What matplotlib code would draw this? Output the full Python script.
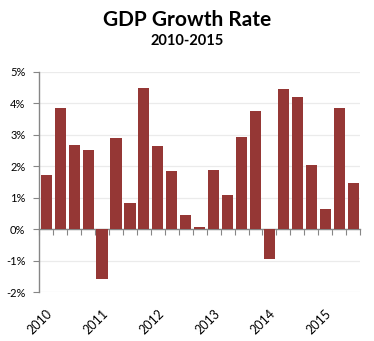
import matplotlib
matplotlib.use("Agg")
import matplotlib.pyplot as plt
import matplotlib.transforms as mtransforms
import numpy as np

# quarterly GDP growth, Q1 2010 .. Q3 2015 (percent)
growth = [1.72, 3.85, 2.67, 2.52,
          -1.57, 2.90, 0.84, 4.48,
          2.64, 1.85, 0.45, 0.07,
          1.88, 1.09, 2.93, 3.75,
          -0.94, 4.45, 4.20, 2.04,
          0.65, 3.85, 1.47]
years = ["2010", "2011", "2012", "2013", "2014", "2015"]
y_ticks = [-2, -1, 0, 1, 2, 3, 4, 5]

plt.rcParams["font.family"] = ["Lato", "DejaVu Sans"]

fig = plt.figure(figsize=(3.74, 3.41), dpi=100)
ax = fig.add_axes([0.105, 0.143, 0.858, 0.647])

x = np.arange(len(growth))
ax.bar(x, growth, width=0.8, color="#953735", zorder=3)

ax.set_xlim(-0.5, len(growth) - 0.5)
ax.set_ylim(y_ticks[0], y_ticks[-1])
ax.set_yticks(y_ticks)
ax.set_yticklabels([f"{v}%" for v in y_ticks], fontsize=8)
ax.yaxis.grid(True, color="#ebebeb", linewidth=0.9, zorder=0)

# category boundaries as small ticks on the zero line
ax.set_xticks(np.arange(len(growth) + 1) - 0.5)
ax.set_xticklabels([])
ax.spines["bottom"].set_position(("data", 0))
for side in ("top", "right"):
    ax.spines[side].set_visible(False)
for side in ("left", "bottom"):
    ax.spines[side].set_color("#868686")
    ax.spines[side].set_linewidth(1.0)
ax.tick_params(axis="x", direction="out", length=4, color="#868686")
ax.tick_params(axis="y", direction="out", length=4, color="#868686", pad=6)

# year labels under the first quarter of each year
trans = mtransforms.blended_transform_factory(ax.transData, ax.transAxes)
offset = mtransforms.ScaledTranslation(0, -14 / 72, fig.dpi_scale_trans)
for i, yr in enumerate(years):
    ax.text(i * 4 + 0.3, 0, yr, transform=trans + offset, rotation=45,
            ha="right", va="center", rotation_mode="anchor", fontsize=9)

fig.text(0.5, 0.942, "GDP Growth Rate", ha="center", va="center",
         fontsize=15, fontweight="bold")
fig.text(0.5, 0.879, "2010-2015", ha="center", va="center",
         fontsize=10.5, fontweight="bold")

fig.savefig("out.png", dpi=100)
